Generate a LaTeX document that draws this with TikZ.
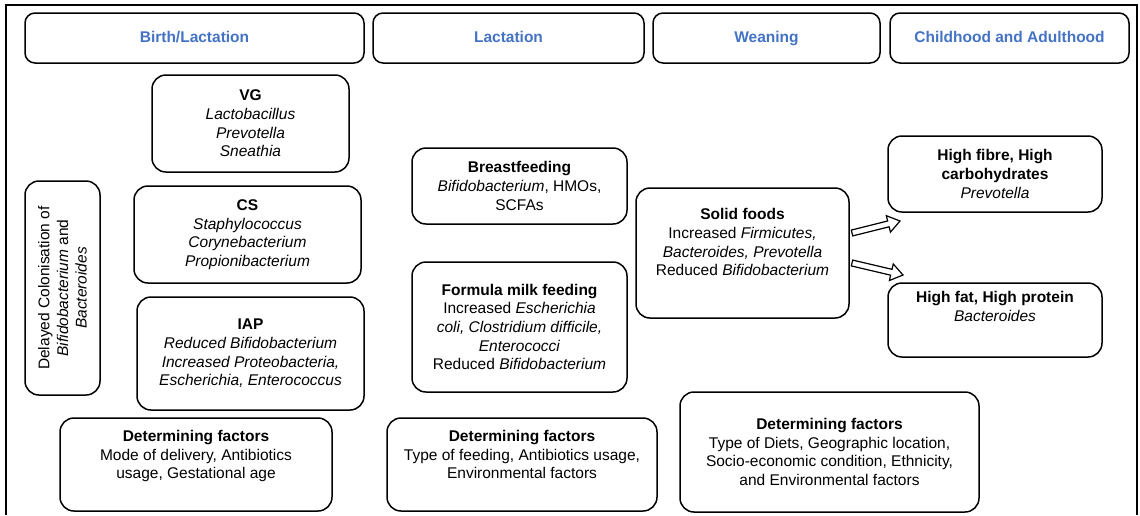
\documentclass[tikz,border=0pt]{standalone}
\usepackage{fontspec}
\setmainfont{Liberation Sans}
\usepackage{xcolor}
\usepackage{tikz}
\usetikzlibrary{positioning,calc}
\definecolor{phaseblue}{RGB}{68,114,196}
\newcommand{\liftup}[2]{\raisebox{#1}[\height][\depth]{\begin{tabular}{@{}c@{}}#2\end{tabular}}}

\begin{document}
\begin{tikzpicture}[x=1pt, y=-1pt, node distance=9pt,
    every node/.style={font=\fontsize{15.5}{18.6}\selectfont},
    phase/.style={rectangle, draw, line width=1.5pt, rounded corners=10pt, minimum height=50pt, inner sep=0pt, outer sep=0pt, text height=11.5pt, text depth=3.5pt, text=phaseblue},
    stage/.style={rectangle, draw, line width=1.5pt, rounded corners=14pt, align=center, inner sep=0pt, outer sep=0pt},
    hollow/.style={draw, fill=white, line width=1.2pt, line join=miter}]
    \useasboundingbox (0,0) rectangle (1140,515);
    \draw [line width=1.4pt] (6,515) -- (6,5) -- (1137,5) -- (1137,515);

    % Row 1: phases
    \node [phase, minimum width=339pt] (birth) at (194.5,38) {\textbf{Birth/Lactation}};
    \node [phase, minimum width=271pt, right=of birth] (lact) {\textbf{Lactation}};
    \node [phase, minimum width=227pt, right=of lact] (wean) {\textbf{Weaning}};
    \node [phase, minimum width=239pt, right=10pt of wean] (child) {\textbf{Childhood and Adulthood}};

    % Birth/Lactation
    \node [stage, minimum width=197pt, minimum height=97pt] (vg) at (250.5,123.5) {\textbf{VG}\\\textit{Lactobacillus}\\\textit{Prevotella}\\\textit{Sneathia}};
    \node [stage, minimum width=227pt, minimum height=97pt] (cs) at (247.5,234.5) {\textbf{CS}\\\textit{Staphylococcus}\\\textit{Corynebacterium}\\\textit{Propionibacterium}};
    \node [stage, minimum width=227pt, minimum height=113pt] (iap) at (250.5,353.5) {\textbf{IAP}\\\textit{Reduced Bifidobacterium}\\\textit{Increased Proteobacteria,}\\\textit{Escherichia, Enterococcus}};
    \node [stage, rotate=90, minimum width=214pt, minimum height=75pt] (delay) at (62.5,288) {Delayed Colonisation of\\\textit{Bifidobacterium} and\\\textit{Bacteroides}};
    \node [stage, minimum width=272pt, minimum height=93pt] (dfbirth) at (196,464.5) {\liftup{8pt}{\textbf{Determining factors}\\Mode of delivery, Antibiotics\\usage, Gestational age}};

    % Lactation
    \node [stage, minimum width=215pt, minimum height=76pt] (breast) at (519.5,186) {\textbf{Breastfeeding}\\\textit{Bifidobacterium}, HMOs,\\SCFAs};
    \node [stage, minimum width=215pt, minimum height=130pt, below=38pt of breast] (formula) {\textbf{Formula milk feeding}\\Increased \textit{Escherichia}\\\textit{coli, Clostridium difficile,}\\\textit{Enterococci}\\Reduced \textit{Bifidobacterium}};
    \node [stage, minimum width=270pt, minimum height=93pt] (dflact) at (522,464.5) {\liftup{8pt}{\textbf{Determining factors}\\Type of feeding, Antibiotics usage,\\Environmental factors}};

    % Weaning
    \node [stage, minimum width=213pt, minimum height=130pt] (solid) at (742.5,253) {\liftup{9pt}{\textbf{Solid foods}\\Increased \textit{Firmicutes,}\\\textit{Bacteroides, Prevotella}\\Reduced \textit{Bifidobacterium}}};
    \node [stage, minimum width=299pt, minimum height=120pt] (dfwean) at (829.5,452) {\textbf{Determining factors}\\Type of Diets, Geographic location,\\Socio-economic condition, Ethnicity,\\and Environmental factors};

    % Childhood and Adulthood
    \node [stage, minimum width=214pt, minimum height=76pt] (fibre) at (995,174) {\textbf{High fibre, High}\\\textbf{carbohydrates}\\\textit{Prevotella}};
    \node [stage, minimum width=214pt, minimum height=74pt] (fat) at (995,320) {\liftup{12pt}{\textbf{High fat, High protein}\\\textit{Bacteroides}}};

    % Connectors
    \coordinate (solid_up) at ($(solid.east)+(3,-20)$);
    \coordinate (solid_dn) at ($(solid.east)+(3,10)$);
    \coordinate (fibre_in) at ($(fibre.south west)+(12,9)$);
    \coordinate (fat_in) at ($(fat.north west)+(15,-8)$);
    \foreach \from/\to in {solid_up/fibre_in, solid_dn/fat_in} {
        \coordinate (neck) at ($(\to)!12pt!(\from)$);
        \draw [hollow] ($(\from)!3pt!90:(\to)$) -- ($(neck)!3pt!90:(\to)$) -- ($(neck)!8.5pt!90:(\to)$) -- (\to)
            -- ($(neck)!8.5pt!-90:(\to)$) -- ($(neck)!3pt!-90:(\to)$) -- ($(\from)!3pt!-90:(\to)$) -- cycle;
    }
\end{tikzpicture}
\end{document}
